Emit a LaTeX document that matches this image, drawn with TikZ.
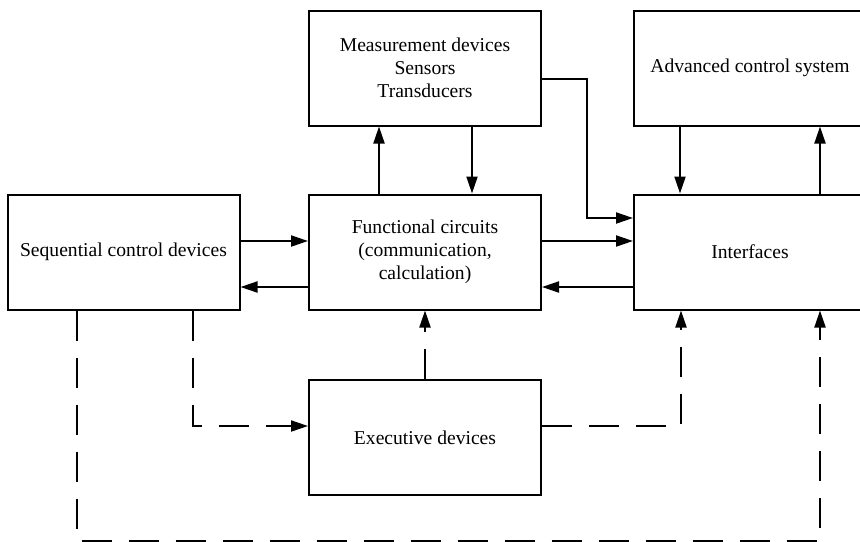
\documentclass[tikz,border=0pt]{standalone}
\usepackage{fontspec}
\setmainfont{Liberation Serif}
\usetikzlibrary{arrows.meta}

\begin{document}
\begin{tikzpicture}[
  x=0.5pt, y=-0.5pt,
  block/.style={rectangle, draw, line width=1pt, minimum width=116pt, minimum height=57.5pt,
    inner sep=0pt, align=center, font=\fontsize{9.8}{11.6}\selectfont},
  arr/.style={line width=1pt, -{Triangle[length=8.5pt,width=5.5pt]}},
  darr/.style={arr, dash pattern=on 15pt off 8.5pt}
]
  \useasboundingbox (0,0) rectangle (860,541);
  \clip (0,0) rectangle (860,541);

  % Top row
  \node[block] (meas) at (425,68)    {Measurement devices\\Sensors\\Transducers};
  \node[block] (adv)  at (750,68)    {Advanced control system};
  % Middle row
  \node[block] (seq)  at (123.5,252) {Sequential control devices};
  \node[block] (func) at (425,252)   {Functional circuits\\(communication,\\calculation)};
  \node[block] (intf) at (750,252)   {Interfaces};
  % Bottom row
  \node[block] (exec) at (425,437.5) {Executive devices};

  \coordinate (mbend) at (587,218);
  \coordinate (bot)   at (450,541);

  \draw[arr] (seq.east |- 0,241) -- (func.west |- 0,241);
  \draw[arr] (func.west |- 0,287) -- (seq.east |- 0,287);
  \draw[arr] (func.east |- 0,241) -- (intf.west |- 0,241);
  \draw[arr] (intf.west |- 0,287) -- (func.east |- 0,287);
  \draw[arr] (func.north -| 379,0) -- (meas.south -| 379,0);
  \draw[arr] (meas.south -| 472,0) -- (func.north -| 472,0);
  \draw[arr] (adv.south -| 680,0) -- (intf.north -| 680,0);
  \draw[arr] (intf.north -| 820,0) -- (adv.south -| 820,0);
  \draw[arr] (meas.east |- 0,79) -| (mbend) -- (intf.west |- mbend);

  % Dashed links
  \draw[darr] (exec.north) -- (func.south);
  \draw[darr] (seq.south -| 193,0) |- (exec.west |- 0,426);
  \draw[darr] (exec.east |- 0,426) -| (intf.south -| 681,0);
  \draw[darr] (seq.south -| 77,0) |- (bot) -| (intf.south -| 820,0);
\end{tikzpicture}
\end{document}
